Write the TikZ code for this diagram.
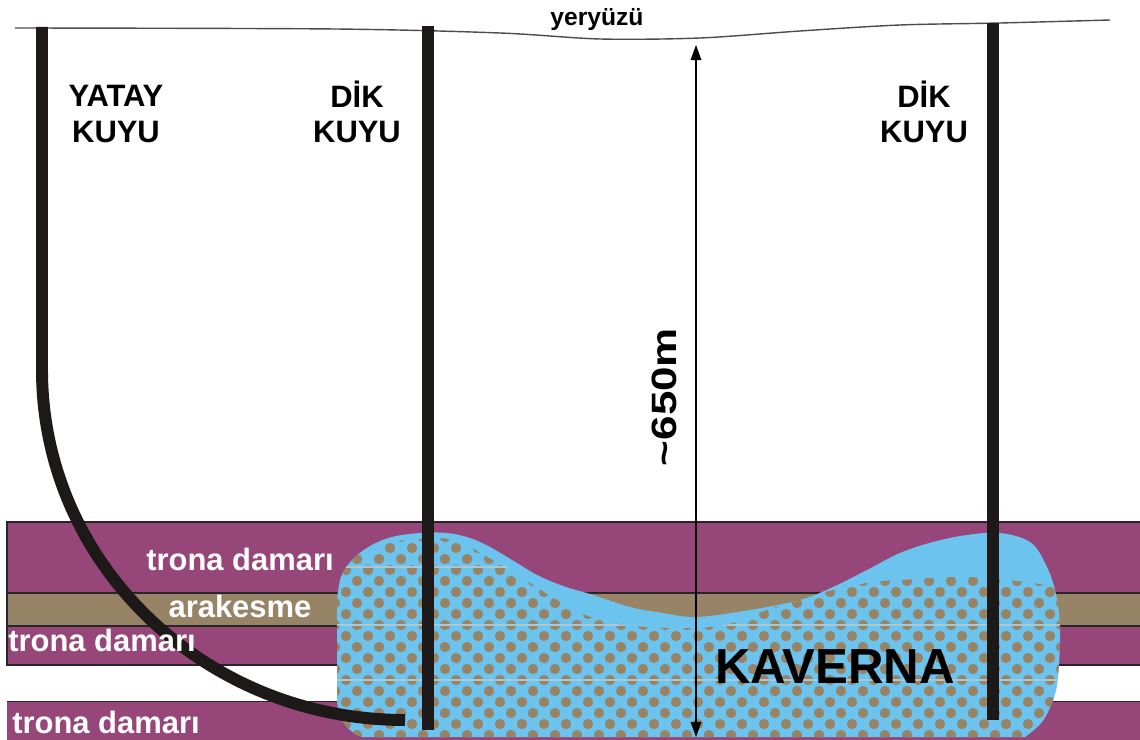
\documentclass[tikz,border=0pt]{standalone}
\usepackage{fontspec}
\setmainfont{Liberation Sans}
\usetikzlibrary{arrows.meta}

\definecolor{trona}{RGB}{150,70,120}
\definecolor{arakesme}{RGB}{151,132,102}
\definecolor{kavmavi}{RGB}{108,196,238}
\definecolor{kuyurenk}{RGB}{30,25,25}
\definecolor{sizinti}{RGB}{170,200,212}

\tikzset{
  kuyu/.style={line width=3.4pt, draw=kuyurenk},
  tabaka/.style={draw=black!85, line width=0.4pt},
  etiket/.style={font=\fontsize{8.8}{10}\selectfont\bfseries, align=center, inner sep=0pt},
  beyaz/.style={etiket, text=white},
  olcu/.style={line width=0.45pt, {Triangle[length=4.3pt,width=3pt]}-{Triangle[length=4.3pt,width=3pt]}}
}

% kavernanin dis siniri
\newcommand{\kavernasinir}{plot[smooth, tension=0.6] coordinates {(337,600) (341,577) (352,560) (370,546) (392,537) (420,533) (447,533) (470,538) (490,547) (517,563) (537,575) (563,586) (590,594) (630,607) (663,613) (697,617) (750,610) (800,600) (833,587) (867,570) (900,553) (933,542) (967,535) (1000,533) (1030,542) (1045,563) (1055,590) (1060,627) (1058,677) (1053,700) (1042,722) (1025,737)} -- (362,737) .. controls (348,732) and (338,720) .. (337,700) -- cycle}

\begin{document}
\begin{tikzpicture}[x=0.01cm, y=-0.01cm]
    \useasboundingbox (0,0) rectangle (1140,740);
    \fill[white] (0,0) rectangle (1140,740);

    % tabakalar
    \filldraw[tabaka, fill=trona] (7,522) rectangle (1145,593);
    \filldraw[tabaka, fill=arakesme] (7,593) rectangle (1145,626);
    \filldraw[tabaka, fill=trona] (7,626) rectangle (1145,665);
    \draw[tabaka] (7,702) -- (1145,702);
    \fill[trona] (7,702.3) rectangle (1145,745);

    % kaverna
    \fill[kavmavi] \kavernasinir;
    \begin{scope}
        \clip \kavernasinir;
        \clip plot[smooth, tension=0.6] coordinates {(330,545) (363,555) (387,543) (410,540) (440,538) (463,543) (487,557) (507,567) (530,583) (557,600) (580,613) (613,623) (647,627) (697,628) (733,623) (767,610) (800,600) (833,590) (867,583) (900,580) (967,577) (1033,583) (1075,590)} -- (1075,745) -- (325,745) -- cycle;
        \foreach \r in {0,...,20}{
            \pgfmathsetmacro{\ky}{526+11*\r}
            \pgfmathsetmacro{\kx}{mod(\r,2)==1 ? 335 : 324}
            \foreach \j in {0,...,34}
                \fill[arakesme] (\kx+22*\j,\ky) circle[radius=5.2];
        }
        \foreach \h in {567,625,680}
            \draw[sizinti, line width=0.5pt] (325,\h) -- (1075,\h);
    \end{scope}

    % yeryuzu
    \draw[line width=0.4pt, black!70] plot[smooth, tension=0.5] coordinates {(15,28) (335,29) (500,33) (600,39) (700,38) (800,31) (900,25) (1000,23) (1110,20)};
    \node[font=\fontsize{7}{8}\selectfont\bfseries, anchor=base] (yuzey) at (597,26) {yeryüzü};

    % kuyular
    \coordinate (yk) at (42,27);
    \coordinate (d1ust) at (428,26);
    \coordinate (d1alt) at (428,730);
    \coordinate (d2ust) at (993,23);
    \coordinate (d2alt) at (993,720);
    \draw[kuyu] (yk) -- (42,370) arc[start angle=180, end angle=90, x radius=363, y radius=350];
    \draw[kuyu] (d1ust) -- (d1alt);
    \draw[kuyu] (d2ust) -- (d2alt);

    \node[etiket] (yatay) at (116,114) {YATAY\\KUYU};
    \node[etiket] (dik1) at (357,112) {DİK\\KUYU};
    \node[etiket] (dik2) at (924,112) {DİK\\KUYU};

    % derinlik
    \coordinate (okust) at (696,45);
    \coordinate (okalt) at (696,737);
    \draw[olcu] (okust) -- (okalt);
    \node[font=\fontsize{10}{12}\selectfont\bfseries, inner sep=0pt, rotate=90, xscale=1.25] (derinlik) at (664,397) {\textasciitilde650m};

    \node[beyaz, anchor=base] (tr1) at (240,570) {trona damarı};
    \node[beyaz, anchor=base] (arak) at (240,617) {arakesme};
    \node[beyaz, anchor=base] (tr2) at (102,651) {trona damarı};
    \node[beyaz, anchor=base] (tr3) at (106,733) {trona damarı};
    \node[font=\fontsize{14}{16}\selectfont\bfseries, inner sep=0pt] (kav) at (835,667) {KAVERNA};
\end{tikzpicture}
\end{document}
